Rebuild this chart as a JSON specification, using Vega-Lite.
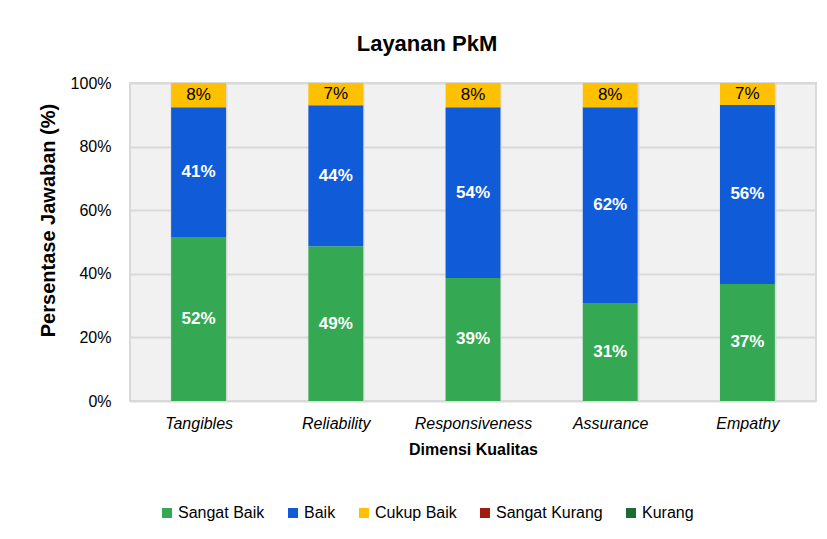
{
  "$schema": "https://vega.github.io/schema/vega-lite/v6.json",
  "width": 686,
  "height": 318,
  "autosize": {"type": "none"},
  "padding": {"left": 130, "top": 83, "right": 11, "bottom": 138},
  "background": "white",
  "title": {"text": "Layanan PkM", "font": "Liberation Sans", "fontSize": 22, "fontWeight": "bold", "color": "#000000", "anchor": "middle", "dx": -46, "offset": 19},
  "config": {
    "font": "Liberation Sans",
    "view": {"fill": "#f1f1f1", "stroke": "#d9d9d9", "strokeWidth": 2},
    "axis": {"labelColor": "#000000", "titleColor": "#000000", "ticks": false, "domain": false, "grid": true, "gridColor": "#d9d9d9", "gridWidth": 2}
  },
  "data": {
    "values": [
      {"dim": "Tangibles", "status": "Sangat Baik", "ord": 1, "pct": 0.516},
      {"dim": "Tangibles", "status": "Baik", "ord": 2, "pct": 0.408},
      {"dim": "Tangibles", "status": "Cukup Baik", "ord": 3, "pct": 0.076},
      {"dim": "Reliability", "status": "Sangat Baik", "ord": 1, "pct": 0.487},
      {"dim": "Reliability", "status": "Baik", "ord": 2, "pct": 0.443},
      {"dim": "Reliability", "status": "Cukup Baik", "ord": 3, "pct": 0.070},
      {"dim": "Responsiveness", "status": "Sangat Baik", "ord": 1, "pct": 0.387},
      {"dim": "Responsiveness", "status": "Baik", "ord": 2, "pct": 0.537},
      {"dim": "Responsiveness", "status": "Cukup Baik", "ord": 3, "pct": 0.076},
      {"dim": "Assurance", "status": "Sangat Baik", "ord": 1, "pct": 0.308},
      {"dim": "Assurance", "status": "Baik", "ord": 2, "pct": 0.616},
      {"dim": "Assurance", "status": "Cukup Baik", "ord": 3, "pct": 0.076},
      {"dim": "Empathy", "status": "Sangat Baik", "ord": 1, "pct": 0.368},
      {"dim": "Empathy", "status": "Baik", "ord": 2, "pct": 0.563},
      {"dim": "Empathy", "status": "Cukup Baik", "ord": 3, "pct": 0.069}
    ]
  },
  "encoding": {
    "x": {
      "field": "dim", "type": "nominal", "sort": null,
      "scale": {"paddingInner": 0.6, "paddingOuter": 0.3},
      "axis": {"title": "Dimensi Kualitas", "titleFontSize": 16, "titleFontWeight": "bold", "titlePadding": 10, "labelFontSize": 16, "labelFontStyle": "italic", "labelAngle": 0, "labelPadding": 14, "tickBand": "extent"}
    }
  },
  "layer": [
    {
      "mark": {"type": "bar"},
      "encoding": {
        "y": {
          "field": "pct", "type": "quantitative", "stack": "zero",
          "scale": {"domain": [0, 1]},
          "axis": {"title": "Persentase Jawaban (%)", "titleFontSize": 20, "titleFontWeight": "bold", "titlePadding": 12, "titleY": 137, "format": ".0%", "values": [0, 0.2, 0.4, 0.6, 0.8, 1], "labelFontSize": 16, "labelPadding": 19}
        },
        "color": {
          "field": "status", "type": "nominal",
          "scale": {"domain": ["Sangat Baik", "Baik", "Cukup Baik", "Sangat Kurang", "Kurang"], "range": ["#34a853", "#0f5bd8", "#ffc000", "#a11d12", "#1e6a33"]},
          "legend": {"orient": "none", "legendX": 29, "legendY": 422, "direction": "horizontal", "title": null, "symbolType": "square", "symbolSize": 100, "symbolStrokeWidth": 0, "labelFontSize": 16, "labelColor": "#000000", "labelOffset": 3, "columnPadding": 20}
        },
        "order": {"field": "ord", "type": "quantitative"}
      }
    },
    {
      "transform": [
        {"stack": "pct", "groupby": ["dim"], "sort": [{"field": "ord"}], "as": ["y0", "y1"]},
        {"fold": ["y0", "y1"], "as": ["edge", "ypos"]},
        {"filter": "datum.status != 'Cukup Baik'"}
      ],
      "mark": {"type": "text", "fontSize": 17, "fontWeight": "bold", "color": "#ffffff", "baseline": "middle"},
      "encoding": {
        "y": {"aggregate": "mean", "field": "ypos", "type": "quantitative", "stack": null},
        "detail": {"field": "status", "type": "nominal"},
        "text": {"field": "pct", "type": "quantitative", "format": ".0%"}
      }
    },
    {
      "transform": [
        {"stack": "pct", "groupby": ["dim"], "sort": [{"field": "ord"}], "as": ["y0", "y1"]},
        {"fold": ["y0", "y1"], "as": ["edge", "ypos"]},
        {"filter": "datum.status == 'Cukup Baik'"}
      ],
      "mark": {"type": "text", "fontSize": 17, "color": "#000000", "baseline": "middle"},
      "encoding": {
        "y": {"aggregate": "mean", "field": "ypos", "type": "quantitative", "stack": null},
        "detail": {"field": "status", "type": "nominal"},
        "text": {"field": "pct", "type": "quantitative", "format": ".0%"}
      }
    }
  ]
}
